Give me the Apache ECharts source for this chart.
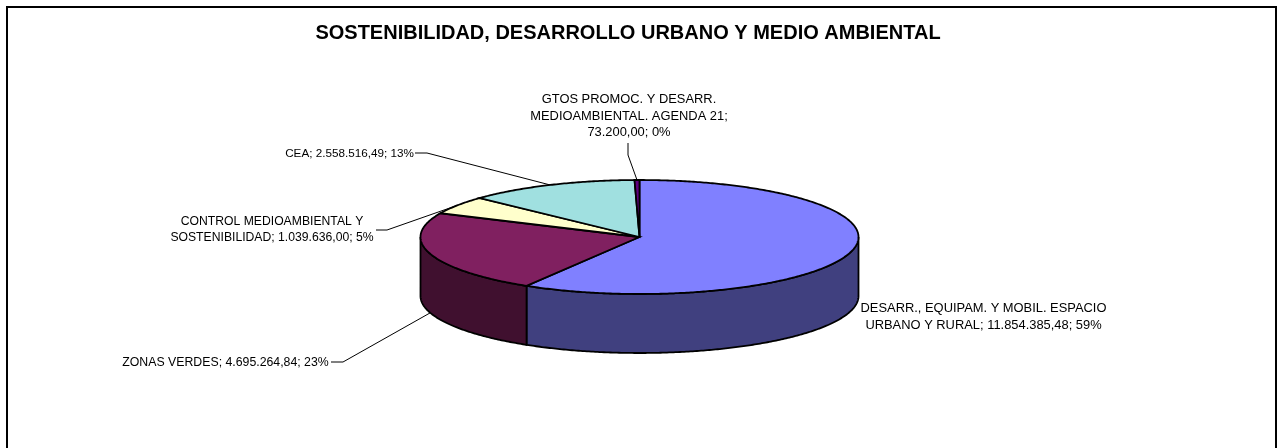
<!DOCTYPE html>
<html>
<head>
<meta charset="utf-8">
<style>html,body{margin:0;padding:0;background:#fff}#c{width:1284px;height:448px}</style>
<script src="https://cdn.jsdelivr.net/npm/echarts@6/dist/echarts.min.js"></script>
</head>
<body>
<div id="c"></div>
<script>
const titleText = 'SOSTENIBILIDAD, DESARROLLO URBANO Y MEDIO AMBIENTAL';
const categories = ['DESARR., EQUIPAM. Y MOBIL. ESPACIO\nURBANO Y RURAL', 'ZONAS VERDES', 'CONTROL MEDIOAMBIENTAL Y\nSOSTENIBILIDAD', 'CEA', 'GTOS PROMOC. Y DESARR.\nMEDIOAMBIENTAL. AGENDA 21'];
const values = [11854385.48, 4695264.84, 1039636.00, 2558516.49, 73200.00];
const valueLabels = ['11.854.385,48', '4.695.264,84', '1.039.636,00', '2.558.516,49', '73.200,00'];
const percentLabels = ['59%', '23%', '5%', '13%', '0%'];
const topColors = ['#8080FF', '#802060', '#FFFFCC', '#A0E0E0', '#600080'];
const sideColors = ['#40407F', '#40102F', '#80805F', '#50706F', '#300040'];

// layout of the tilted pie
const CX = 639.5, CY = 237, RX = 219, RY = 57, DEPTH = 59;
const total = values.reduce((a, b) => a + b, 0);
const TAU = Math.PI * 2;
const starts = []; { let s = 0; values.forEach(v => { starts.push(s); s += v / total * TAU; }); }
const ends = values.map((v, i) => starts[i] + v / total * TAU);
const pt = (a, dy) => [CX + RX * Math.sin(a), CY - RY * Math.cos(a) + (dy || 0)];
function arc(a0, a1, dy) {
  const n = Math.max(2, Math.ceil((a1 - a0) / 0.01)), out = [];
  for (let i = 0; i <= n; i++) out.push(pt(a0 + (a1 - a0) * i / n, dy));
  return out;
}
// label layout: text centre, font size, leader elbow/start
const labelLayout = [
  { x: 983.5, y: 317, size: 12.9, lh: 17 },
  { x: 225.5, y: 363, size: 12.3, lh: 16, leader: [[331, 362], [343, 362]], side: true },
  { x: 272, y: 230, size: 12.2, lh: 16, leader: [[376, 230], [387, 230]] },
  { x: 349.5, y: 154, size: 11.7, lh: 16, leader: [[415, 153], [427, 153]] },
  { x: 629, y: 116, size: 12.9, lh: 16.5, leader: [[628, 143], [628, 155]] }
];
const FONT = '"Liberation Sans", Arial, sans-serif';
const OUTLINE = 1.8;

function sideItem(params) {
  const i = params.dataIndex;
  const a0 = Math.max(starts[i], Math.PI / 2), a1 = Math.min(ends[i], Math.PI * 1.5);
  if (a1 <= a0) return { type: 'group', children: [] };
  const top = arc(a0, a1, 0), bottom = arc(a0, a1, DEPTH).reverse();
  return { type: 'polygon', shape: { points: top.concat(bottom) }, style: { fill: sideColors[i], stroke: '#000', lineWidth: OUTLINE } };
}
function topItem(params) {
  const i = params.dataIndex;
  return { type: 'polygon', shape: { points: [[CX, CY]].concat(arc(starts[i], ends[i], 0)) }, style: { fill: topColors[i], stroke: '#000', lineWidth: OUTLINE } };
}
function labelItem(params) {
  const i = params.dataIndex, L = labelLayout[i];
  const children = [];
  const sep = i === 4 ? ';\n' : '; ';
  const body = categories[i] + sep + valueLabels[i] + '; ' + percentLabels[i];
  children.push({ type: 'text', style: { x: L.x, y: L.y, text: body, align: 'center', verticalAlign: 'middle', font: L.size + 'px ' + FONT, fill: '#000', lineHeight: L.lh } });
  if (L.leader) {
    const mid = (starts[i] + ends[i]) / 2;
    const anchor = pt(mid, L.side ? DEPTH : 0);
    children.push({ type: 'polyline', shape: { points: L.leader.concat([anchor]) }, style: { fill: 'none', stroke: '#000', lineWidth: 1 } });
  }
  return { type: 'group', children };
}
const rows = values.map((v, i) => [i, v]);
const chart = echarts.init(document.getElementById('c'), null, { renderer: 'canvas' });
chart.setOption({
  animation: false,
  backgroundColor: '#fff',
  title: { text: titleText, left: 623, top: 18, textAlign: 'center', textStyle: { fontFamily: FONT, fontSize: 20, fontWeight: 'bold', color: '#000' } },
  graphic: [{ type: 'polyline', silent: true, shape: { points: [[7, 460], [7, 7], [1276, 7], [1276, 460]] }, style: { fill: 'none', stroke: '#000', lineWidth: 2 } }],
  series: [
    { type: 'custom', coordinateSystem: 'none', silent: true, z: 2, data: rows, renderItem: sideItem },
    { type: 'custom', coordinateSystem: 'none', silent: true, z: 3, data: rows, renderItem: topItem },
    { type: 'custom', coordinateSystem: 'none', silent: true, z: 4, data: rows, renderItem: labelItem }
  ]
});
</script>
</body>
</html>
